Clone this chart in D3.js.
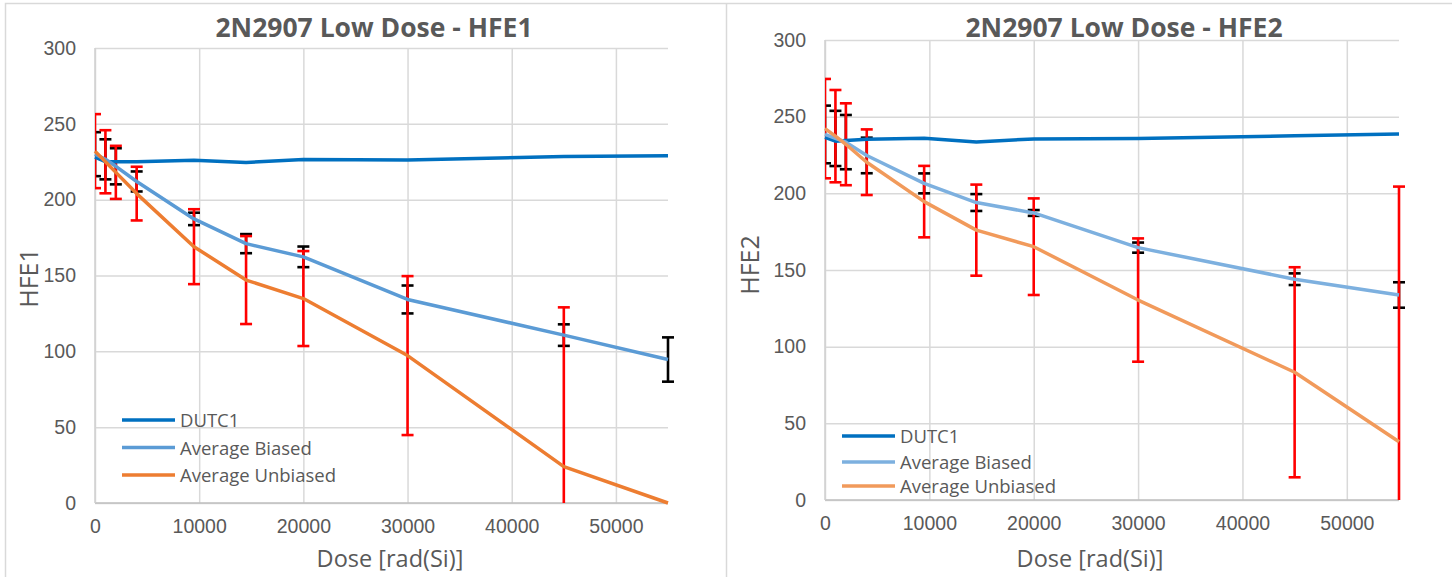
<!DOCTYPE html>
<html>
<head>
<meta charset="utf-8">
<script src="https://cdn.jsdelivr.net/npm/d3@7"></script>
<style>
  html, body { margin: 0; padding: 0; background: #fff; }
  svg { display: block; font-family: "Open Sans", "Liberation Sans", sans-serif; }
</style>
</head>
<body>
<svg id="chart" width="1452" height="577"></svg>
<script>
// ---------- data ----------
const doses = [0, 1000, 2000, 4000, 9500, 14500, 20000, 30000, 45000, 55000];
const xTicks = [0, 10000, 20000, 30000, 40000, 50000];
const yTicks = [0, 50, 100, 150, 200, 250, 300];
const seriesNames = ["DUTC1", "Average Biased", "Average Unbiased"];

const hfe1Dutc1      = [228, 225, 225, 225, 226, 224.5, 226.5, 226.2, 228.5, 229];
const hfe1Biased     = [230, 226.6, 222, 212, 187.3, 171, 162.3, 134.2, 110.7, 94.6];
const hfe1BiasedErr  = [14.5, 13.2, 11.9, 6.6, 4.1, 6.3, 6.8, 9.2, 7.1, 14.6];
const hfe1Unbiased   = [232, 225, 218, 204, 169, 147, 134.8, 97.2, 24, 0];
const hfe1UnbiasedErr= [24.4, 20.8, 17.5, 17.7, 24.7, 29, 31.3, 52.4, 105, 0];

const hfe2Dutc1      = [236.5, 234, 234.5, 235.3, 235.9, 233.5, 235.5, 235.7, 237.5, 238.7];
const hfe2Biased     = [238.4, 235.8, 233.4, 224.7, 206.5, 194, 187.2, 164.6, 144, 133.7];
const hfe2BiasedErr  = [18.8, 18, 17.7, 11.6, 6.5, 5.5, 1.9, 3.3, 3.8, 8.3];
const hfe2Unbiased   = [242.2, 237.3, 232, 220.3, 194.6, 176, 165.2, 130.4, 83.3, 38];
const hfe2UnbiasedErr= [32.4, 30.1, 26.7, 21.4, 23.3, 29.7, 31.5, 40.2, 68.5, 166.4];

// ---------- drawing ----------
const svg = d3.select("#chart");
const textColor = "#595959";

// panel frames
svg.append("path")
  .attr("d", "M5.5,580 V3.5 H1460 M726.5,3.5 V580")
  .attr("fill", "none").attr("stroke", "#D9D9D9").attr("stroke-width", 1.5);

const charts = [
  { id: "c1", title: "2N2907 Low Dose - HFE1", ylabel: "HFE1",
    dutc1: hfe1Dutc1, biased: hfe1Biased, biasedErr: hfe1BiasedErr,
    unbiased: hfe1Unbiased, unbiasedErr: hfe1UnbiasedErr,
    colors: ["#0070C0", "#5B9BD5", "#ED7D31"],
    L: 95, R: 668, T: 48, B: 503, titleX: 374, ylabX: 29, ylabY: 278, xlabX: 390,
    legX: 122, legY: [420, 447.5, 475] },
  { id: "c2", title: "2N2907 Low Dose - HFE2", ylabel: "HFE2",
    dutc1: hfe2Dutc1, biased: hfe2Biased, biasedErr: hfe2BiasedErr,
    unbiased: hfe2Unbiased, unbiasedErr: hfe2UnbiasedErr,
    colors: ["#0070C0", "#7DB0DF", "#F19A5B"],
    L: 825, R: 1399, T: 40, B: 500, titleX: 1124, ylabX: 750, ylabY: 265, xlabX: 1090,
    legX: 842, legY: [436, 462, 486] }
];

charts.forEach(c => {
  const x = d3.scaleLinear().domain([0, 55000]).range([c.L, c.R]);
  const y = d3.scaleLinear().domain([0, 300]).range([c.B, c.T]);
  const g = svg.append("g");

  const clipId = "clip-" + c.id;
  svg.append("clipPath").attr("id", clipId)
    .append("rect").attr("x", c.L).attr("y", c.T - 2)
    .attr("width", c.R - c.L + 6).attr("height", c.B - c.T + 2);

  // gridlines
  const yAxis = d3.axisLeft(y).tickValues(yTicks).tickSize(-(c.R - c.L)).tickPadding(19);
  const gy = g.append("g").attr("transform", `translate(${c.L},0)`).call(yAxis);
  gy.select(".domain").remove();
  gy.selectAll(".tick line").attr("stroke", "#D9D9D9").attr("stroke-width", 1.5);
  gy.selectAll(".tick text").attr("fill", textColor).style("font-size", "19.5px");

  const xAxis = d3.axisBottom(x).tickValues(xTicks).tickSize(-(c.B - c.T)).tickPadding(16)
    .tickFormat(d3.format("d"));
  const gx = g.append("g").attr("transform", `translate(0,${c.B})`).call(xAxis);
  gx.select(".domain").remove();
  gx.selectAll(".tick line").attr("stroke", "#D9D9D9").attr("stroke-width", 1.5);
  gx.selectAll(".tick text").attr("fill", textColor).style("font-size", "19.5px");

  // axis lines
  g.append("line").attr("x1", c.L).attr("x2", c.R).attr("y1", c.B).attr("y2", c.B)
    .attr("stroke", "#BFBFBF").attr("stroke-width", 1.5);
  g.append("line").attr("x1", c.L).attr("x2", c.L).attr("y1", c.T).attr("y2", c.B)
    .attr("stroke", "#D0D0D0").attr("stroke-width", 1.5);

  // error bars
  const eb = g.append("g").attr("clip-path", `url(#${clipId})`);
  function errorBars(vals, errs, color) {
    const capW = 6;
    doses.forEach((d, i) => {
      if (!errs[i]) return;
      const px = x(d), y1 = y(vals[i] + errs[i]), y2 = y(vals[i] - errs[i]);
      eb.append("line").attr("x1", px).attr("x2", px).attr("y1", y1).attr("y2", y2)
        .attr("stroke", color).attr("stroke-width", 2.6);
      [y1, y2].forEach(py => eb.append("line")
        .attr("x1", px - capW).attr("x2", px + capW).attr("y1", py).attr("y2", py)
        .attr("stroke", color).attr("stroke-width", 2.6));
    });
  }
  errorBars(c.biased, c.biasedErr, "#000000");
  errorBars(c.unbiased, c.unbiasedErr, "#FF0000");

  // lines
  const line = d3.line().x((d, i) => x(doses[i])).y(d => y(d)).curve(d3.curveLinear);
  [c.dutc1, c.biased, c.unbiased].forEach((s, k) => {
    g.append("path").datum(s).attr("d", line).attr("fill", "none")
      .attr("stroke", c.colors[k]).attr("stroke-width", 3.5).attr("stroke-linejoin", "round");
  });

  // title
  g.append("text").attr("x", c.titleX).attr("y", 37).attr("text-anchor", "middle")
    .attr("fill", textColor).style("font-size", "26.5px").style("font-weight", "bold")
    .text(c.title);
  // y label
  g.append("text").attr("transform", `translate(${c.ylabX + 9},${c.ylabY}) rotate(-90)`)
    .attr("text-anchor", "middle").attr("fill", textColor).style("font-size", "25px")
    .text(c.ylabel);
  // x label
  g.append("text").attr("x", c.xlabX).attr("y", 567).attr("text-anchor", "middle")
    .attr("fill", textColor).style("font-size", "23.5px").text("Dose [rad(Si)]");

  // legend
  seriesNames.forEach((n, k) => {
    g.append("line").attr("x1", c.legX).attr("x2", c.legX + 53)
      .attr("y1", c.legY[k]).attr("y2", c.legY[k])
      .attr("stroke", c.colors[k]).attr("stroke-width", 3.5);
    g.append("text").attr("x", c.legX + 58).attr("y", c.legY[k] + 7)
      .attr("fill", textColor).style("font-size", "18.5px").text(n);
  });
});
</script>
</body>
</html>
